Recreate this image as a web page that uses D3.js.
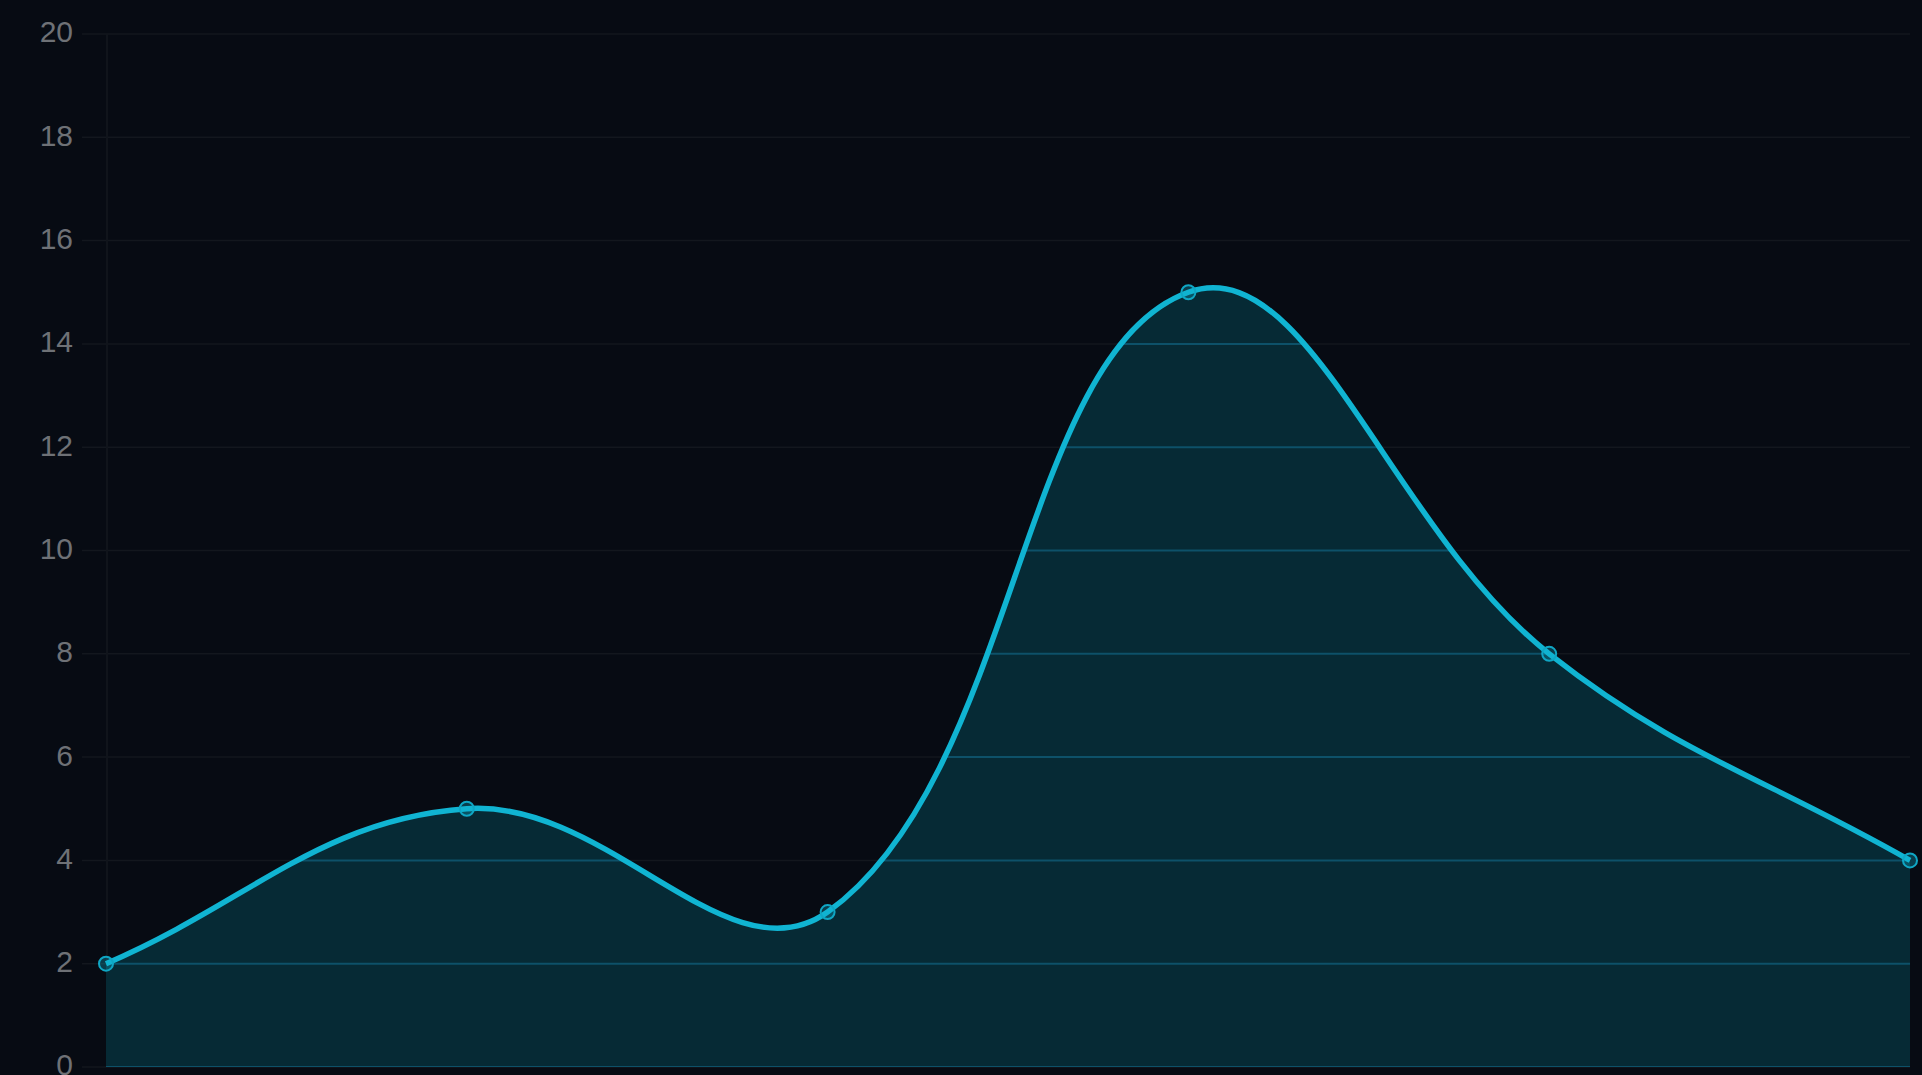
<!DOCTYPE html>
<html>
<head>
<meta charset="utf-8">
<script src="https://cdn.jsdelivr.net/npm/d3@7"></script>
<style>
  html, body { margin: 0; padding: 0; background: #070b13; overflow: hidden; }
  svg { display: block; }
</style>
</head>
<body>
<svg width="1922" height="1075"></svg>
<script>
'use strict';

// values
const labels = ['A', 'B', 'C', 'D', 'E', 'F'];
const values = [2, 5, 3, 15, 8, 4];
const yTicks = [0, 2, 4, 6, 8, 10, 12, 14, 16, 18, 20];

const svg = d3.select('svg');
const width = +svg.attr('width');
const height = +svg.attr('height');

const plotLeft = 106, plotRight = 1910, plotTop = 34, plotBottom = 1067;

const x = d3.scalePoint().domain(labels).range([plotLeft, plotRight]);
const y = d3.scaleLinear().domain([0, 20]).range([plotBottom, plotTop]);

svg.append('rect').attr('width', width).attr('height', height).attr('fill', '#070b13');

// spline like chart.js (tension 0.4)
function splineCurve(context) {
  let pts = [];
  return {
    areaStart() {}, areaEnd() {},
    lineStart() { pts = []; },
    point(px, py) { pts.push([+px, +py]); },
    lineEnd() {
      const t = 0.4, n = pts.length;
      const clampY = v => Math.min(plotBottom, Math.max(plotTop, v));
      const cps = pts.map((p, i) => {
        const p0 = pts[Math.max(i - 1, 0)], p2 = pts[Math.min(i + 1, n - 1)];
        const d01 = Math.hypot(p[0] - p0[0], p[1] - p0[1]);
        const d12 = Math.hypot(p2[0] - p[0], p2[1] - p[1]);
        let s01 = d01 / (d01 + d12), s12 = d12 / (d01 + d12);
        if (isNaN(s01)) s01 = 0;
        if (isNaN(s12)) s12 = 0;
        const fa = t * s01, fb = t * s12;
        return {
          prev: [p[0] - fa * (p2[0] - p0[0]), clampY(p[1] - fa * (p2[1] - p0[1]))],
          next: [p[0] + fb * (p2[0] - p0[0]), clampY(p[1] + fb * (p2[1] - p0[1]))]
        };
      });
      context.moveTo(pts[0][0], pts[0][1]);
      for (let i = 1; i < n; i++) {
        context.bezierCurveTo(cps[i - 1].next[0], cps[i - 1].next[1], cps[i].prev[0], cps[i].prev[1], pts[i][0], pts[i][1]);
      }
    }
  };
}

const line = d3.line()
  .x((d, i) => x(labels[i]))
  .y(d => y(d))
  .curve(splineCurve);

const linePath = line(values);
const areaPath = linePath +
  `L${x(labels[labels.length - 1])},${y(0)}L${x(labels[0])},${y(0)}Z`;

// dim grid
svg.append('g').selectAll('line')
  .data(yTicks)
  .join('line')
    .attr('x1', plotLeft - 24)
    .attr('x2', plotRight)
    .attr('y1', d => y(d))
    .attr('y2', d => y(d))
    .attr('stroke', '#13171e')
    .attr('stroke-width', 1.5);

svg.append('line')
  .attr('x1', plotLeft + 1).attr('x2', plotLeft + 1)
  .attr('y1', plotTop).attr('y2', plotBottom)
  .attr('stroke', '#10141b')
  .attr('stroke-width', 2);

// tick labels
svg.append('g').selectAll('text')
  .data(yTicks)
  .join('text')
    .attr('x', 73)
    .attr('y', d => y(d))
    .attr('dy', '0.28em')
    .attr('text-anchor', 'end')
    .attr('fill', '#6e7176')
    .style('font', '30px "Liberation Sans", Arial, sans-serif')
    .text(d => d);

// filled area
svg.append('path')
  .attr('d', areaPath)
  .attr('fill', '#062a35');

// grid lines inside the fill look teal
svg.append('clipPath').attr('id', 'areaClip')
  .append('path').attr('d', areaPath);

svg.append('g')
  .attr('clip-path', 'url(#areaClip)')
  .selectAll('line')
  .data(yTicks)
  .join('line')
    .attr('x1', plotLeft)
    .attr('x2', plotRight)
    .attr('y1', d => y(d))
    .attr('y2', d => y(d))
    .attr('stroke', '#0d5169')
    .attr('stroke-width', 2);

// the line
svg.append('path')
  .attr('d', linePath)
  .attr('fill', 'none')
  .attr('stroke', '#10b4d2')
  .attr('stroke-width', 5.5)
  .attr('stroke-linejoin', 'round');

// points
svg.append('g').selectAll('circle')
  .data(values)
  .join('circle')
    .attr('cx', (d, i) => x(labels[i]))
    .attr('cy', d => y(d))
    .attr('r', 7)
    .attr('fill', 'rgba(15,178,208,0.3)')
    .attr('stroke', '#0fa6c4')
    .attr('stroke-width', 2);
</script>
</body>
</html>
